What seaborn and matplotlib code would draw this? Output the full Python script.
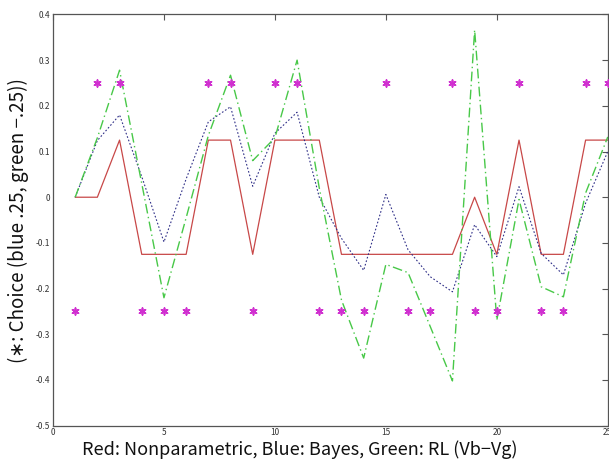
import matplotlib
matplotlib.use("Agg")
import matplotlib.pyplot as plt
import seaborn as sns
import pandas as pd

# trial index
trials = list(range(1, 26))

# Red: Nonparametric
nonparam = [0, 0, 0.125, -0.125, -0.125, -0.125, 0.125, 0.125, -0.125, 0.125,
            0.125, 0.125, -0.125, -0.125, -0.125, -0.125, -0.125, -0.125, 0, -0.125,
            0.125, -0.125, -0.125, 0.125, 0.125]
# Blue: Bayes
bayes = [0, 0.124, 0.18, 0.045, -0.098, 0.04, 0.165, 0.198, 0.024, 0.14,
         0.186, 0.0, -0.09, -0.16, 0.006, -0.115, -0.174, -0.207, -0.06, -0.13,
         0.023, -0.123, -0.17, -0.013, 0.1]
# Green: RL
rl = [0, 0.13, 0.278, 0.03, -0.22, -0.045, 0.135, 0.267, 0.08, 0.13,
      0.3, 0.02, -0.225, -0.352, -0.147, -0.165, -0.283, -0.402, 0.366, -0.269,
      -0.005, -0.196, -0.218, 0.009, 0.132]
# choices: +.25 blue, -.25 green
choice = [-0.25, 0.25, 0.25, -0.25, -0.25, -0.25, 0.25, 0.25, -0.25, 0.25,
          0.25, -0.25, -0.25, -0.25, 0.25, -0.25, -0.25, 0.25, -0.25, -0.25,
          0.25, -0.25, -0.25, 0.25, 0.25]

df = pd.DataFrame({'trial': trials, 'nonparam': nonparam, 'bayes': bayes,
                   'rl': rl, 'choice': choice})

sns.set_style("white")
plt.rcParams['font.family'] = ['Noto Sans CJK JP', 'DejaVu Sans']

fig = plt.figure(figsize=(6.09, 4.66), dpi=100)
ax = fig.add_axes([0.087, 0.0865, 0.911, 0.8825])

sns.lineplot(data=df, x='trial', y='nonparam', color='#c84848', linewidth=0.9, ax=ax)
sns.lineplot(data=df, x='trial', y='bayes', color='#303088', linewidth=0.8,
             linestyle=(0, (1.5, 1.8)), ax=ax)
sns.lineplot(data=df, x='trial', y='rl', color='#48c848', linewidth=1.0,
             linestyle=(0, (7, 2.5, 1, 2.5)), ax=ax)
sns.scatterplot(data=df, x='trial', y='choice', marker=(6, 2, 0), color='#d030d0',
                s=24, linewidth=1.2, edgecolor='#d030d0', ax=ax, zorder=3)

ax.set_xlim(0, 25)
ax.set_ylim(-0.5, 0.4)
ax.set_xticks([0, 5, 10, 15, 20, 25])
ax.set_xticklabels(['0', '5', '10', '15', '20', '25'])
yt = [-0.5, -0.4, -0.3, -0.2, -0.1, 0, 0.1, 0.2, 0.3, 0.4]
ax.set_yticks(yt)
ax.set_yticklabels(['-0.5', '-0.4', '-0.3', '-0.2', '-0.1', '0', '0.1', '0.2', '0.3', '0.4'])
ax.tick_params(axis='both', direction='in', length=4, width=0.8, labelsize=6,
               colors='#555555', labelcolor='#333333', top=True, right=True, pad=2)
for s in ax.spines.values():
    s.set_color('#555555')
    s.set_linewidth(0.9)

ax.set_xlabel('Red: Nonparametric, Blue: Bayes, Green: RL (Vb\u2212Vg)', fontsize=13,
              color='#111111')
ax.xaxis.set_label_coords(0.445, -0.036)
ax.set_ylabel('(\u2217: Choice (blue .25, green \u2212.25))', fontsize=13.5,
              color='#111111', labelpad=5)

fig.savefig('out.png', dpi=100)
